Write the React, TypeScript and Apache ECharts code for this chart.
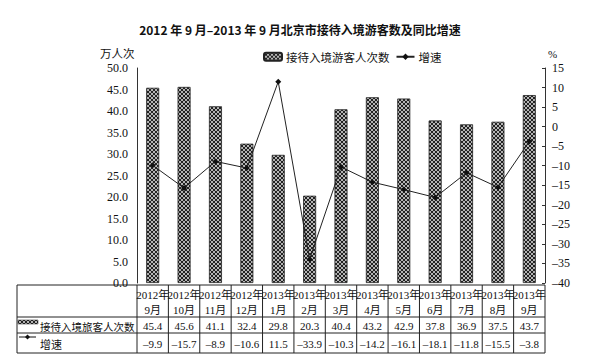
import React, { useEffect, useRef } from "react";
import * as echarts from "echarts";

const categories = ["2012年\n9月", "2012年\n10月", "2012年\n11月", "2012年\n12月", "2013年\n1月", "2013年\n2月", "2013年\n3月", "2013年\n4月", "2013年\n5月", "2013年\n6月", "2013年\n7月", "2013年\n8月", "2013年\n9月"];
const visitors = [45.4, 45.6, 41.1, 32.4, 29.8, 20.3, 40.4, 43.2, 42.9, 37.8, 36.9, 37.5, 43.7];
const growth = [-9.9, -15.7, -8.9, -10.6, 11.5, -33.9, -10.3, -14.2, -16.1, -18.1, -11.8, -15.5, -3.8];
const barName = "接待入境游客人次数";
const lineName = "增速";
const tableBarLabel = "接待入境旅客人次数";
const title = "2012 年 9 月–2013 年 9 月北京市接待入境游客数及同比增速";

const SERIF = "'Liberation Serif', 'Times New Roman', 'Noto Sans CJK SC', serif";
const CJK = "'Noto Sans CJK SC', sans-serif";

const GL = 137, GR = 545, GT = 68, GB = 283;
const T0 = 285, T1 = 317, T2 = 333, T3 = 353, TL = 17;

function fmt(v: number) {
  return String(v).replace("-", "–");
}

export default function App() {
  const ref = useRef<HTMLDivElement>(null);
  useEffect(() => {
    if (!ref.current) return;
    const chart = echarts.init(ref.current, undefined, { renderer: "svg" });
    const cv = document.createElement("canvas");
    cv.width = 4; cv.height = 4;
    const ctx = cv.getContext("2d")!;
    ctx.fillStyle = "#b4b4b4";
    ctx.fillRect(0, 0, 4, 4);
    ctx.fillStyle = "#222";
    for (let i = 0; i < 4; i++) { ctx.fillRect(i, i, 1, 1); ctx.fillRect(3 - i, i, 1, 1); }
    const pattern: any = { image: cv, repeat: "repeat" };

    const n = categories.length;
    const cw = (GR - GL) / n;
    const g: any[] = [];
    const line = (x1: number, y1: number, x2: number, y2: number) =>
      g.push({ type: "line", shape: { x1, y1, x2, y2 }, style: { stroke: "#222", lineWidth: 1 }, silent: true });
    [T0, T1, T2, T3].forEach((y) => line(TL, y, GR, y));
    line(TL, T0, TL, T3);
    for (let i = 0; i <= n; i++) line(GL + i * cw, T0, GL + i * cw, T3);
    for (let i = 0; i < n; i++) {
      const cx = GL + (i + 0.5) * cw;
      g.push({ type: "text", x: cx, y: (T1 + T2) / 2 + 0.5, style: { text: fmt(visitors[i]), font: `11px ${SERIF}`, fill: "#111", align: "center", verticalAlign: "middle" } });
      g.push({ type: "text", x: cx, y: (T2 + T3) / 2 + 0.5, style: { text: fmt(growth[i]), font: `11px ${SERIF}`, fill: "#111", align: "center", verticalAlign: "middle" } });
    }
    g.push({ type: "rect", shape: { x: 18, y: 320, width: 20, height: 4 }, style: { fill: pattern, stroke: "#222", lineWidth: 0.5 } });
    g.push({ type: "text", x: 40, y: (T1 + T2) / 2 + 1, style: { text: tableBarLabel, font: `10.5px ${CJK}`, fill: "#111", verticalAlign: "middle" } });
    g.push({ type: "line", shape: { x1: 19, y1: 337, x2: 36, y2: 337 }, style: { stroke: "#111", lineWidth: 1 } });
    g.push({ type: "polygon", shape: { points: [[27.5, 334.5], [30, 337], [27.5, 339.5], [25, 337]] }, style: { fill: "#111" } });
    g.push({ type: "text", x: 40, y: (T2 + T3) / 2 + 1, style: { text: lineName, font: `11px ${CJK}`, fill: "#111", verticalAlign: "middle" } });
    g.push({ type: "text", x: 100, y: 53, style: { text: "万人次", font: `11.5px ${CJK}`, fill: "#111", verticalAlign: "middle" } });
    g.push({ type: "text", x: 548, y: 54, style: { text: "%", font: `11px ${SERIF}`, fill: "#111", verticalAlign: "middle" } });

    chart.setOption({
      animation: false,
      backgroundColor: "#fff",
      title: {
        text: title, left: 295, top: 18, textAlign: "center",
        textStyle: { fontFamily: CJK, fontSize: 12, fontWeight: "bold", color: "#111" },
      },
      legend: {
        left: 258, top: 46, itemWidth: 18, itemHeight: 8, itemGap: 6,
        textStyle: { fontFamily: CJK, fontSize: 11.5, color: "#111", padding: [0, 0, 0, -1] },
        data: [barName, lineName],
      },
      grid: { left: GL, right: 603 - GR, top: GT, bottom: 364 - GB, containLabel: false },
      xAxis: {
        type: "category", data: categories,
        axisLine: { show: false }, axisTick: { show: false },
        axisLabel: { interval: 0, margin: 4, fontFamily: SERIF, fontSize: 11, lineHeight: 15, color: "#111" },
      },
      yAxis: [
        {
          type: "value", min: 0, max: 50, interval: 5, splitLine: { show: false },
          axisLine: { show: true, lineStyle: { color: "#333" } },
          axisTick: { show: false },
          axisLabel: { margin: 9, fontFamily: SERIF, fontSize: 12, color: "#111", formatter: (v: number) => v.toFixed(1) },
        },
        {
          type: "value", min: -40, max: 15, interval: 5, splitLine: { show: false },
          axisLine: { show: true, lineStyle: { color: "#333" } },
          axisTick: { show: true, inside: true, length: 3, lineStyle: { color: "#333" } },
          axisLabel: { margin: 7, fontFamily: SERIF, fontSize: 12, color: "#111", formatter: (v: number) => fmt(v) },
        },
      ],
      series: [
        {
          name: barName, type: "bar", data: visitors, barWidth: 13, yAxisIndex: 0,
          itemStyle: { color: pattern, borderColor: "#222", borderWidth: 0.8 },
        },
        {
          name: lineName, type: "line", data: growth, yAxisIndex: 1,
          symbol: "diamond", symbolSize: 6, showSymbol: true,
          lineStyle: { color: "#222", width: 1 }, itemStyle: { color: "#111" },
        },
      ],
      graphic: g,
    });
    return () => chart.dispose();
  }, []);
  return <div ref={ref} style={{ width: 603, height: 364, position: "absolute", left: 0, top: 0 }} />;
}
